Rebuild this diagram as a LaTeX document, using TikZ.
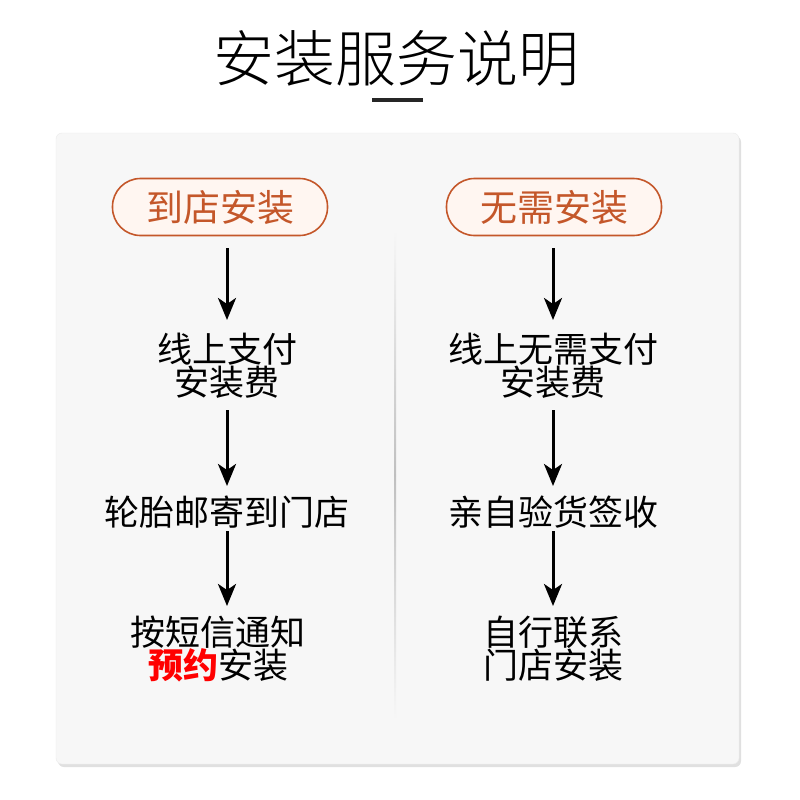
\documentclass[tikz,border=0pt]{standalone}
\usepackage{fontspec}
\newfontfamily\cjk{Noto Sans CJK SC}
\newfontfamily\cjkl{Noto Sans CJK SC Light}
\usetikzlibrary{arrows.meta}
\definecolor{pillc}{HTML}{C4572A}
\definecolor{pillf}{HTML}{FFF6F1}
\definecolor{cardf}{HTML}{F7F7F7}
\tikzset{
 pill/.style={draw=pillc,line width=1.6pt,fill=pillf,rounded corners=28pt,minimum width=215pt,minimum height=57pt,text=pillc,font=\cjk\fontsize{37}{40}\selectfont,inner sep=0pt},
 txt/.style={align=center,font=\cjk\fontsize{35}{33}\selectfont,text=black,inner sep=0pt},
 arr/.style={-{Stealth[length=22pt,width=18pt,inset=6pt]},line width=3pt},
}
\begin{document}
\begin{tikzpicture}[x=1pt,y=-1pt]
\useasboundingbox[fill=white] (0,0) rectangle (800,800);
\node[font=\cjkl\fontsize{61}{64}\selectfont] (title) at (396,58) {安装服务说明};
\fill[black!85] (372,98) rectangle (423,102);
\fill[black!12,rounded corners=6pt] (58,136) rectangle (741,767);
\fill[cardf,draw=black!8,rounded corners=6pt] (56,133) rectangle (739,764);
\shade[top color=cardf,bottom color=cardf,middle color=black!25] (394.5,230) rectangle (396,720);
\node[pill] (l0) at (220,207) {到店安装};
\node[pill] (r0) at (554,207) {无需安装};
\node[txt] (l1) at (227,366) {线上支付\\安装费};
\node[txt] (l2) at (227,512) {轮胎邮寄到门店};
\node[txt] (l3) at (218,649) {按短信通知\\{\color{red}\textbf{预约}}安装};
\node[txt] (r1) at (553,366) {线上无需支付\\安装费};
\node[txt] (r2) at (553,512) {亲自验货签收};
\node[txt] (r3) at (553,649) {自行联系\\门店安装};
\coordinate (a1) at (227,248); \coordinate (b1) at (227,320);
\coordinate (a2) at (227,410); \coordinate (b2) at (227,486);
\coordinate (a3) at (227,531); \coordinate (b3) at (227,606);
\coordinate (c1) at (553,248); \coordinate (d1) at (553,320);
\coordinate (c2) at (553,410); \coordinate (d2) at (553,486);
\coordinate (c3) at (553,531); \coordinate (d3) at (553,606);
\draw[arr] (a1) -- (b1); \draw[arr] (a2) -- (b2); \draw[arr] (a3) -- (b3);
\draw[arr] (c1) -- (d1); \draw[arr] (c2) -- (d2); \draw[arr] (c3) -- (d3);
\end{tikzpicture}
\end{document}
